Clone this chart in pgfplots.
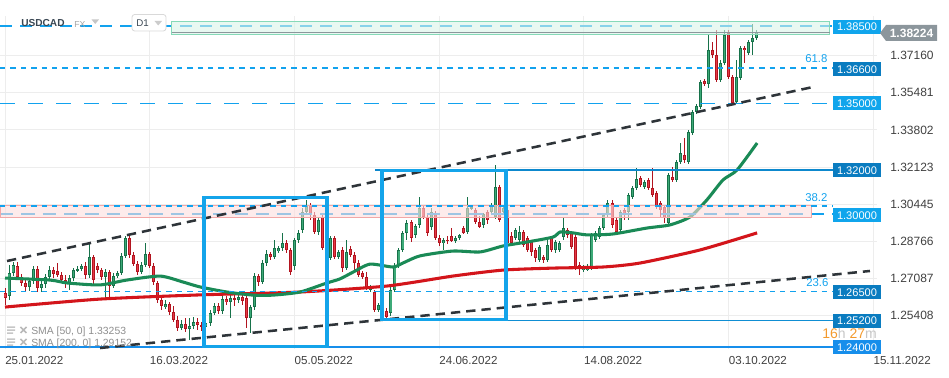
\documentclass[border=0pt]{standalone}
\usepackage{fontspec}
\setmainfont{Liberation Sans}
\usepackage{pgfplots}
\usepackage{pgfplotstable}
\pgfplotsset{compat=1.18}

\definecolor{gridc}{HTML}{EDEDED}
\definecolor{tickc}{HTML}{404040}
\definecolor{upO}{HTML}{17724A}
\definecolor{upI}{HTML}{3DAA78}
\definecolor{dnO}{HTML}{B2141F}
\definecolor{dnI}{HTML}{E53945}
\definecolor{smaG}{HTML}{1A8A56}
\definecolor{smaR}{HTML}{D3151B}
\definecolor{boxB}{HTML}{14A4EA}
\definecolor{trend}{HTML}{2E3439}
\definecolor{lvlL}{HTML}{10A5EC}
\definecolor{lvlD}{HTML}{0A7CC0}
\definecolor{lvlM}{HTML}{168EEB}
\definecolor{lvlDash}{HTML}{12A2EE}
\definecolor{zoneG}{HTML}{D8F3E8}
\definecolor{zoneGb}{HTML}{86D9B8}
\definecolor{zoneP}{HTML}{FCDDDD}
\definecolor{zonePb}{HTML}{F2A7A7}
\definecolor{priceG}{HTML}{8C969C}
\definecolor{orangeT}{HTML}{F39A2E}
\definecolor{legG}{HTML}{8E8E8E}
\definecolor{hdr}{HTML}{3A4753}

% candles: i open high low close
\pgfplotstableread{
i o h l c
1 1.2630 1.2770 1.2612 1.2734
2 1.2734 1.2784 1.2720 1.2770
6 1.2671 1.2711 1.2653 1.2698
7 1.2698 1.2766 1.2684 1.2752
9 1.2666 1.2698 1.2648 1.2684
10 1.2684 1.2729 1.2666 1.2716
11 1.2716 1.2766 1.2702 1.2747
16 1.2689 1.2725 1.2657 1.2711
17 1.2711 1.2757 1.2698 1.2747
18 1.2747 1.2766 1.2738 1.2752
19 1.2752 1.2775 1.2743 1.2766
21 1.2725 1.2874 1.2711 1.2806
25 1.2716 1.2752 1.2626 1.2738
27 1.2675 1.2734 1.2666 1.2720
28 1.2720 1.2743 1.2711 1.2734
29 1.2734 1.2824 1.2725 1.2811
30 1.2811 1.2901 1.2802 1.2892
34 1.2738 1.2784 1.2729 1.2770
35 1.2770 1.2869 1.2761 1.2820
40 1.2580 1.2612 1.2571 1.2594
44 1.2485 1.2522 1.2476 1.2503
46 1.2481 1.2531 1.2431 1.2495
47 1.2495 1.2535 1.2481 1.2513
50 1.2490 1.2522 1.2476 1.2508
51 1.2508 1.2567 1.2495 1.2553
52 1.2553 1.2598 1.2544 1.2585
54 1.2562 1.2630 1.2549 1.2616
56 1.2603 1.2639 1.2531 1.2621
58 1.2612 1.2639 1.2598 1.2626
61 1.2531 1.2589 1.2463 1.2580
62 1.2580 1.2734 1.2567 1.2720
64 1.2693 1.2793 1.2684 1.2779
65 1.2779 1.2838 1.2766 1.2820
67 1.2806 1.2883 1.2797 1.2847
68 1.2833 1.2856 1.2824 1.2847
69 1.2847 1.2915 1.2833 1.2869
72 1.2766 1.2892 1.2747 1.2883
73 1.2883 1.2928 1.2869 1.2915
74 1.2928 1.3027 1.2915 1.3009
75 1.3009 1.3064 1.2996 1.3041
78 1.2919 1.2982 1.2906 1.2973
81 1.2802 1.2901 1.2793 1.2892
83 1.2806 1.2838 1.2797 1.2829
85 1.2757 1.2883 1.2747 1.2829
91 1.2657 1.2680 1.2648 1.2671
93 1.2567 1.2598 1.2558 1.2589
96 1.2553 1.2671 1.2540 1.2657
97 1.2657 1.2779 1.2648 1.2766
98 1.2766 1.2847 1.2757 1.2838
99 1.2838 1.2924 1.2829 1.2915
100 1.2915 1.2973 1.2883 1.2960
102 1.2906 1.2955 1.2892 1.2946
103 1.2951 1.3077 1.2937 1.3027
106 1.2942 1.3027 1.2928 1.3009
109 1.2869 1.2892 1.2838 1.2883
112 1.2879 1.2901 1.2869 1.2892
113 1.2892 1.2910 1.2883 1.2906
115 1.2919 1.3077 1.2910 1.3027
116 1.3027 1.3041 1.3018 1.3032
119 1.2951 1.3005 1.2937 1.3000
121 1.3009 1.3050 1.3000 1.3041
122 1.2987 1.3222 1.2978 1.3122
124 1.3009 1.3037 1.3000 1.3027
127 1.2892 1.2937 1.2883 1.2928
128 1.2883 1.2946 1.2874 1.2919
133 1.2793 1.2860 1.2784 1.2852
135 1.2793 1.2883 1.2784 1.2860
137 1.2838 1.2883 1.2824 1.2874
138 1.2838 1.2879 1.2829 1.2869
139 1.2897 1.2982 1.2883 1.2937
144 1.2747 1.2770 1.2738 1.2757
145 1.2747 1.2775 1.2743 1.2761
146 1.2757 1.2915 1.2747 1.2906
147 1.2883 1.2924 1.2874 1.2915
148 1.2897 1.2946 1.2888 1.2937
149 1.2937 1.3005 1.2928 1.2996
150 1.2996 1.3064 1.2987 1.3050
153 1.2928 1.3018 1.2919 1.3009
155 1.3009 1.3095 1.2973 1.3086
156 1.3077 1.3127 1.3068 1.3118
157 1.3118 1.3208 1.3109 1.3158
159 1.3122 1.3154 1.3113 1.3145
165 1.2960 1.3186 1.2951 1.3177
167 1.3154 1.3244 1.3145 1.3235
168 1.3235 1.3321 1.3226 1.3276
170 1.3235 1.3380 1.3226 1.3371
171 1.3366 1.3470 1.3357 1.3461
172 1.3461 1.3497 1.3452 1.3488
173 1.3484 1.3606 1.3475 1.3597
175 1.3588 1.3809 1.3570 1.3741
178 1.3606 1.3696 1.3597 1.3682
179 1.3682 1.3832 1.3673 1.3809
182 1.3506 1.3696 1.3497 1.3619
183 1.3615 1.3760 1.3606 1.3751
185 1.3728 1.3786 1.3719 1.3777
186 1.3777 1.3858 1.3719 1.3795
187 1.3795 1.3832 1.3786 1.3822
}\candUp

\pgfplotstableread{
i o h l c
0 1.2644 1.2666 1.2589 1.2621
3 1.2766 1.2784 1.2702 1.2716
4 1.2716 1.2729 1.2675 1.2689
5 1.2689 1.2702 1.2648 1.2671
8 1.2752 1.2766 1.2648 1.2666
12 1.2747 1.2761 1.2711 1.2729
13 1.2743 1.2779 1.2716 1.2725
14 1.2725 1.2738 1.2689 1.2702
15 1.2702 1.2725 1.2666 1.2689
20 1.2766 1.2784 1.2707 1.2725
22 1.2806 1.2815 1.2684 1.2702
23 1.2766 1.2779 1.2734 1.2747
24 1.2747 1.2757 1.2702 1.2716
26 1.2738 1.2747 1.2626 1.2675
31 1.2892 1.2901 1.2802 1.2815
32 1.2815 1.2829 1.2766 1.2775
33 1.2775 1.2788 1.2725 1.2738
36 1.2820 1.2829 1.2757 1.2766
37 1.2766 1.2779 1.2680 1.2693
38 1.2689 1.2698 1.2598 1.2612
39 1.2612 1.2626 1.2567 1.2585
41 1.2594 1.2603 1.2544 1.2558
42 1.2558 1.2585 1.2513 1.2522
43 1.2522 1.2540 1.2472 1.2485
45 1.2503 1.2531 1.2467 1.2481
48 1.2513 1.2531 1.2476 1.2499
49 1.2499 1.2513 1.2472 1.2490
53 1.2585 1.2598 1.2549 1.2562
55 1.2616 1.2630 1.2589 1.2603
57 1.2621 1.2635 1.2585 1.2612
59 1.2626 1.2639 1.2589 1.2607
60 1.2621 1.2635 1.2485 1.2531
63 1.2720 1.2729 1.2675 1.2693
66 1.2820 1.2829 1.2793 1.2806
70 1.2869 1.2883 1.2824 1.2838
71 1.2838 1.2847 1.2725 1.2738
76 1.3041 1.3050 1.2973 1.2996
77 1.2996 1.3009 1.2910 1.2919
79 1.2987 1.3000 1.2838 1.2847
80 1.2847 1.2869 1.2802 1.2815
82 1.2892 1.2901 1.2797 1.2806
84 1.2838 1.2851 1.2738 1.2757
86 1.2842 1.2856 1.2806 1.2815
87 1.2815 1.2829 1.2734 1.2779
88 1.2779 1.2793 1.2716 1.2725
89 1.2734 1.2743 1.2707 1.2716
90 1.2716 1.2738 1.2657 1.2666
92 1.2648 1.2657 1.2558 1.2567
94 1.2589 1.2603 1.2522 1.2531
95 1.2562 1.2576 1.2522 1.2535
101 1.2964 1.2973 1.2874 1.2892
104 1.3027 1.3041 1.2978 1.2987
105 1.2987 1.3000 1.2901 1.2915
107 1.3005 1.3014 1.2883 1.2892
108 1.2892 1.2906 1.2856 1.2869
110 1.2883 1.2901 1.2865 1.2879
111 1.2901 1.2937 1.2874 1.2879
114 1.2937 1.2946 1.2910 1.2915
117 1.3018 1.3027 1.2955 1.2964
118 1.2964 1.2991 1.2937 1.2942
120 1.3009 1.3018 1.2955 1.2973
123 1.3122 1.3131 1.2964 1.2973
125 1.3018 1.3027 1.2860 1.2869
126 1.2901 1.2919 1.2860 1.2869
129 1.2919 1.2928 1.2852 1.2860
130 1.2892 1.2901 1.2829 1.2838
131 1.2874 1.2883 1.2811 1.2829
132 1.2838 1.2847 1.2784 1.2802
134 1.2806 1.2815 1.2779 1.2793
136 1.2892 1.2901 1.2829 1.2838
140 1.2928 1.2937 1.2892 1.2906
141 1.2915 1.2924 1.2842 1.2852
142 1.2897 1.2906 1.2747 1.2761
143 1.2770 1.2784 1.2725 1.2757
151 1.3050 1.3064 1.2937 1.2951
152 1.2973 1.2982 1.2910 1.2919
154 1.3018 1.3027 1.2973 1.2996
158 1.3163 1.3172 1.3122 1.3131
160 1.3154 1.3163 1.3109 1.3118
161 1.3118 1.3208 1.3077 1.3086
162 1.3095 1.3104 1.3023 1.3032
163 1.3050 1.3059 1.2982 1.3018
164 1.3032 1.3041 1.2960 1.2982
166 1.3168 1.3213 1.3145 1.3154
169 1.3267 1.3344 1.3231 1.3244
174 1.3601 1.3610 1.3579 1.3588
176 1.3741 1.3777 1.3705 1.3719
177 1.3719 1.3832 1.3597 1.3606
180 1.3818 1.3832 1.3610 1.3619
181 1.3619 1.3628 1.3493 1.3502
184 1.3751 1.3760 1.3683 1.3741
}\candDn

\pgfplotsset{
  cbar/.style 2 args={draw=none, mark=none, forget plot,
    error bars/.cd, y dir=both, y explicit, error mark=none,
    error bar style={solid, line width=#2, draw=#1}},
}
\tikzset{lvl/.style={draw=lvlDash, line width=1.3pt}}

\begin{document}
\begin{tikzpicture}
\useasboundingbox (0,0) rectangle (711.75pt,283.5pt);
\begin{axis}[
  at={(0pt,21.75pt)}, anchor=south west,
  width=657.75pt, height=249.75pt, scale only axis,
  xmin=-1.244, xmax=216.92, ymin=1.23906, ymax=1.38947,
  clip=false,
  axis line style={draw=none},
  major tick length=0pt,
  grid=major, major grid style={draw=gridc, line width=0.75pt},
  xtick={0,36,72,108,144,180,216},
  xticklabels={25.01.2022,16.03.2022,05.05.2022,24.06.2022,14.08.2022,03.10.2022,15.11.2022},
  xticklabel style={anchor=north west, inner sep=0pt, yshift=-5pt,
    font=\fontsize{8.7}{10}\selectfont, text=tickc},
  ytick={1.23729,1.25408,1.27087,1.28766,1.30445,1.32123,1.33802,1.35481,1.37160},
  yticklabels={1.23729,1.25408,1.27087,1.28766,1.30445,1.32123,1.33802,1.35481,1.37160},
  yticklabel pos=right,
  yticklabel style={anchor=west, inner sep=0pt, xshift=9.75pt,
    font=\fontsize{9}{10}\selectfont, text=tickc},
]
% ---- candles: wicks, body outlines, body fills
\addplot[cbar={upO}{0.75pt}] table[x=i, y expr={(\thisrow{h}+\thisrow{l})/2}, y error expr={(\thisrow{h}-\thisrow{l})/2}] {\candUp};
\addplot[cbar={dnO}{0.75pt}] table[x=i, y expr={(\thisrow{h}+\thisrow{l})/2}, y error expr={(\thisrow{h}-\thisrow{l})/2}] {\candDn};
\addplot[cbar={upO}{2.25pt}] table[x=i, y expr={(\thisrow{o}+\thisrow{c})/2}, y error expr={max(abs(\thisrow{c}-\thisrow{o})/2,0.00025)}] {\candUp};
\addplot[cbar={dnO}{2.25pt}] table[x=i, y expr={(\thisrow{o}+\thisrow{c})/2}, y error expr={max(abs(\thisrow{c}-\thisrow{o})/2,0.00025)}] {\candDn};
\addplot[cbar={upI}{0.9pt}] table[x=i, y expr={(\thisrow{o}+\thisrow{c})/2}, y error expr={max(abs(\thisrow{c}-\thisrow{o})/2-0.00045,0)}] {\candUp};
\addplot[cbar={dnI}{0.9pt}] table[x=i, y expr={(\thisrow{o}+\thisrow{c})/2}, y error expr={max(abs(\thisrow{c}-\thisrow{o})/2-0.00045,0)}] {\candDn};

% ---- SMA 200 and SMA 50
\addplot[smaR, line width=2.3pt, smooth, tension=0.4] coordinates {
(0,1.2580) (23.6,1.2616) (48.5,1.2635) (73.4,1.2648) (95.0,1.2675) (111.4,1.2720)
(123.9,1.2747) (136.3,1.2756) (148.8,1.2761) (158.0,1.2779) (172.9,1.2838) (187.1,1.2915)};
\addplot[smaG, line width=2.3pt, smooth, tension=0.4] coordinates {
(0,1.2711) (11.2,1.2702) (15.4,1.2689) (23.6,1.2680) (30.3,1.2702) (38.6,1.2720)
(44.3,1.2693) (48.5,1.2671) (55.2,1.2648) (61.7,1.2634) (66.7,1.2634) (73.4,1.2648)
(80.1,1.2689) (83.3,1.2707) (86.6,1.2738) (90.8,1.2774) (96.5,1.2761) (99.0,1.2779)
(103.2,1.2811) (111.4,1.2833) (118.2,1.2829) (123.9,1.2856) (129.9,1.2874) (136.3,1.2896)
(138.1,1.2919) (141.3,1.2915) (144.8,1.2906) (151.2,1.2910) (159.7,1.2937) (165.4,1.2951)
(170.4,1.2987) (174.6,1.3064) (178.6,1.3154) (182.1,1.3199) (187.1,1.3321)};

% ---- levels under the zones
\draw[lvl, dash pattern=on 9pt off 6pt] (axis cs:-1.244,1.385) -- (axis cs:205.97,1.385);
\draw[lvl, dash pattern=on 10pt off 6pt] (axis cs:-1.244,1.3000) -- (axis cs:205.97,1.3000);

% ---- zones
\addplot[fill=zoneP, fill opacity=0.6, draw=zonePb, line width=0.75pt] coordinates {(-1.244,1.29868) (200.7,1.29868) (200.7,1.30410) (-1.244,1.30410)} --cycle;
\addplot[fill=zoneG, fill opacity=0.6, draw=zoneGb, line width=0.75pt] coordinates {(41.54,1.38133) (205.2,1.38133) (205.2,1.38677) (41.54,1.38677)} --cycle;

% ---- other levels
\draw[priceG, line width=0.75pt] (axis cs:41.54,1.38224) -- (axis cs:205.2,1.38224);
\draw[lvl, dash pattern=on 4pt off 3.8pt] (axis cs:-1.244,1.3660) -- (axis cs:205.97,1.3660);
\draw[lvl, dash pattern=on 11pt off 10pt] (axis cs:-1.244,1.3500) -- (axis cs:205.97,1.3500);
\draw[draw=lvlD!70!boxB, line width=1.1pt] (axis cs:92.04,1.3200) -- (axis cs:205.97,1.3200);
\draw[lvl, dash pattern=on 4pt off 3.8pt] (axis cs:-1.244,1.3037) -- (axis cs:205.97,1.3037);
\draw[lvl, dash pattern=on 4pt off 3.8pt] (axis cs:-1.244,1.2650) -- (axis cs:205.97,1.2650);
\draw[draw=lvlD!55!boxB, line width=1.1pt] (axis cs:92.79,1.2520) -- (axis cs:205.97,1.2520);
\draw[draw=lvlM, line width=1.1pt] (axis cs:-1.244,1.2400) -- (axis cs:205.97,1.2400);

% ---- trend lines
\addplot[draw=trend, line width=1.9pt, dash pattern=on 7pt off 4.5pt] coordinates {(0.5,1.2788) (201,1.3574)};
\addplot[draw=trend, line width=1.9pt, dash pattern=on 7pt off 4.5pt] coordinates {(23.63,1.2395) (215.17,1.2743)};

% ---- blue rectangles
\addplot[draw=boxB, line width=2.3pt] coordinates {(49.5,1.2400) (80.1,1.2400) (80.1,1.3073) (49.5,1.3073)} --cycle;
\addplot[draw=boxB, line width=2.3pt] coordinates {(93.78,1.2522) (124.63,1.2522) (124.63,1.3195) (93.78,1.3195)} --cycle;
\end{axis}

% ---- annotations in pixel coordinates (origin top-left)
\begin{scope}[x=0.75pt, y=-0.75pt, shift={(0pt,283.5pt)}]
  % level labels
  \foreach \yy/\txt/\col in {27/1.38500/lvlL, 69.5/1.36600/lvlD, 103.5/1.35000/lvlL,
      170.5/1.32000/lvlD, 215.5/1.30000/lvlL, 292.5/1.26500/lvlD, 321/1.25200/lvlD, 347.5/1.24000/lvlM}
    \node[fill=\col, text=white, inner sep=0pt, minimum width=36pt, minimum height=10.5pt,
      font=\fontsize{8.3}{9}\selectfont] at (857,\yy) {\txt};
  % current price
  \fill[priceG] (880,33) -- (886,25) -- (937,25) -- (937,41) -- (886,41) -- cycle;
  \node[text=white, inner sep=0pt, font=\bfseries\fontsize{9}{10}\selectfont] at (911.5,33) {1.38224};
  % fibonacci labels
  \node[anchor=west, inner sep=0pt, text=lvlDash, font=\fontsize{8.5}{9}\selectfont] at (805,58.5) {61.8};
  \node[anchor=west, inner sep=0pt, text=lvlDash, font=\fontsize{8.5}{9}\selectfont] at (805,198) {38.2};
  \node[anchor=west, inner sep=0pt, text=lvlDash, font=\fontsize{8.5}{9}\selectfont] at (806,283) {23.6};
  % header
  \node[anchor=west, inner sep=0pt, font=\bfseries\fontsize{7.6}{9}\selectfont, text=hdr] at (21,23) {USDCAD};
  \node[anchor=west, inner sep=0pt, font=\fontsize{6.5}{7}\selectfont, text=legG!80] at (74,24.5) {FX};
  \fill[gray!45] (91.5,19.5) -- (99,19.5) -- (95.25,24) -- cycle;
  \draw[gray!30, fill=white, rounded corners=2pt, line width=0.6pt] (132,14.5) rectangle (166,31);
  \node[anchor=west, inner sep=0pt, font=\fontsize{7.3}{9}\selectfont, text=hdr] at (136,23) {D1};
  \fill[gray!40] (154.5,21) -- (162,21) -- (158.25,25.5) -- cycle;
  % SMA legend
  \fill[gray!45] (7,326.5) rectangle (15,328) (7,329.5) rectangle (15,331) (7,332.5) rectangle (13,334);
  \draw[gray!55, line width=1.1pt] (20.5,327) -- (26.5,333) (20.5,333) -- (26.5,327);
  \node[anchor=west, inner sep=0pt, font=\fontsize{7.8}{9}\selectfont, text=legG] at (31,331.5) {SMA [50,\ 0] 1.33253};
  \fill[gray!45] (7,338.5) rectangle (15,340) (7,341.5) rectangle (15,343) (7,344.5) rectangle (13,346);
  \draw[gray!55, line width=1.1pt] (20.5,339) -- (26.5,345) (20.5,345) -- (26.5,339);
  \node[anchor=west, inner sep=0pt, font=\fontsize{7.8}{9}\selectfont, text=legG] at (31,343.5) {SMA [200,\ 0] 1.29152};
  % countdown
  \node[anchor=west, inner sep=0pt, font=\fontsize{10.5}{12}\selectfont] at (822,333)
    {\textcolor{orangeT}{16}\textcolor{gray!45}{h} \textcolor{orangeT}{27}\textcolor{gray!45}{m}};
\end{scope}
\end{tikzpicture}
\end{document}
